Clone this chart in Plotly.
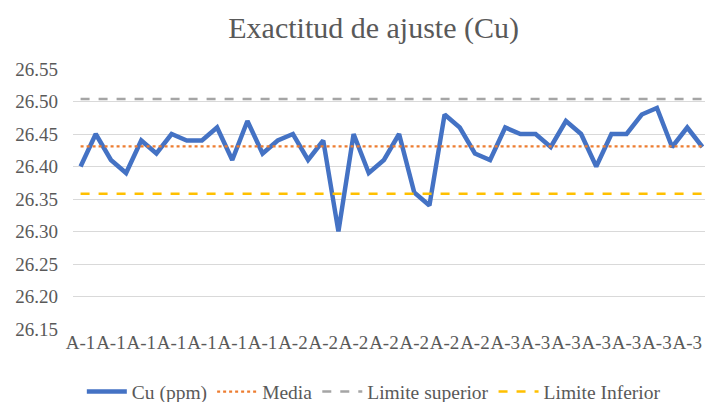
import plotly.graph_objects as go

labels = ["A-1"] * 14 + ["A-2"] * 14 + ["A-3"] * 14
cu = [26.40, 26.45, 26.41, 26.39, 26.44, 26.42, 26.45, 26.44, 26.44, 26.46,
      26.41, 26.47, 26.42, 26.44, 26.45, 26.41, 26.44, 26.30, 26.45, 26.39,
      26.41, 26.45, 26.36, 26.34, 26.48, 26.46, 26.42, 26.41, 26.46, 26.45,
      26.45, 26.43, 26.47, 26.45, 26.40, 26.45, 26.45, 26.48, 26.49, 26.43,
      26.46, 26.43]
media_value = 26.431
upper_value = 26.504
lower_value = 26.358
y_ticks = [26.15, 26.20, 26.25, 26.30, 26.35, 26.40, 26.45, 26.50, 26.55]

n = len(cu)
xs = list(range(n))
media = [media_value] * n
upper = [upper_value] * n
lower = [lower_value] * n

FONT = "Liberation Serif"
GREY = "#595959"

fig = go.Figure()
fig.add_trace(go.Scatter(x=xs, y=cu, mode="lines", name="Cu (ppm)",
                         line=dict(color="#4472C4", width=4.5)))
fig.add_trace(go.Scatter(x=xs, y=media, mode="lines", name="Media",
                         line=dict(color="#ED7D31", width=2.2, dash="dot")))
fig.add_trace(go.Scatter(x=xs, y=upper, mode="lines", name="Limite superior",
                         line=dict(color="#A5A5A5", width=2.5, dash="dash")))
fig.add_trace(go.Scatter(x=xs, y=lower, mode="lines", name="Limite Inferior",
                         line=dict(color="#FFC000", width=2.5, dash="dash")))

fig.update_layout(
    width=705, height=402,
    margin=dict(l=73, r=0, t=69, b=73, autoexpand=False),
    paper_bgcolor="white", plot_bgcolor="white",
    font=dict(family=FONT, color=GREY, size=18),
    title=dict(text="Exactitud de ajuste (Cu)", x=0.530, xanchor="center",
               y=1 - 27 / 402, yanchor="middle",
               font=dict(family=FONT, size=30, color=GREY)),
    showlegend=True,
    legend=dict(orientation="h", x=0.476, xanchor="center",
                y=-0.242, yanchor="middle",
                font=dict(family=FONT, size=19.5, color=GREY),
                itemwidth=40, traceorder="normal"),
    xaxis=dict(range=[-0.5, 41.17], tickmode="array",
               tickvals=xs[::2], ticktext=labels[::2], automargin=False,
               showgrid=False, zeroline=False, showline=False,
               ticks="", tickfont=dict(family=FONT, size=19, color=GREY),
               tickangle=0),
    yaxis=dict(range=[26.15, 26.55], tickmode="array", tickvals=y_ticks,
               ticktext=[f"{v:.2f}" for v in y_ticks], automargin=False,
               showgrid=True, gridcolor="#D9D9D9", gridwidth=1.3,
               zeroline=False, showline=False, ticks="",
               ticklabelstandoff=14,
               tickfont=dict(family=FONT, size=19, color=GREY)),
)

fig.write_html(
    "out.html",
    config={"displayModeBar": False},
    post_script="document.body.style.margin='0';document.body.style.overflow='hidden';",
)
